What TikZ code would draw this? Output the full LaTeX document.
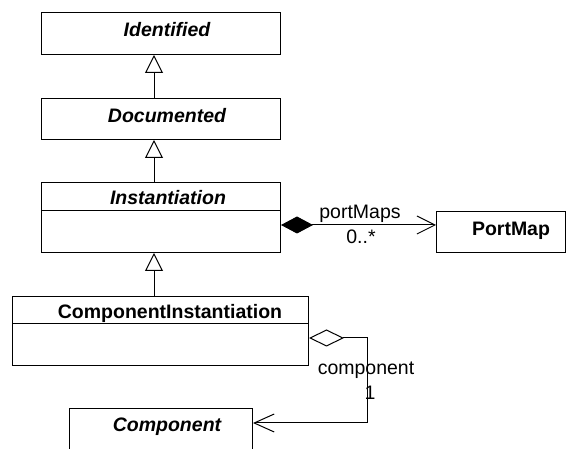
\documentclass[tikz,border=0pt]{standalone}
\usepackage{fontspec}
\setmainfont{Liberation Sans}
\usetikzlibrary{arrows.meta}

\tikzset{
  cls/.style={draw, line width=1pt, fill=white, inner sep=0pt, anchor=north west},
  title/.style={font=\fontsize{19.5}{21}\selectfont\bfseries, inner sep=0pt},
  abstitle/.style={title, font=\fontsize{19.5}{21}\selectfont\bfseries\itshape},
  lbl/.style={font=\fontsize{19.5}{21}\selectfont, inner sep=0pt},
  conn/.style={line width=1pt},
  gen/.style={conn, -{Triangle[open, length=18pt, width=18pt, line width=1pt]}},
  comp/.style={conn, {Diamond[length=32pt, width=17pt, fill=black, line width=1pt]}-{Straight Barb[length=18pt, width=18pt, line width=1pt]}},
  agg/.style={conn, {Diamond[open, length=35pt, width=17pt, line width=1pt]}-{Straight Barb[length=20pt, width=18pt, line width=1pt]}},
}

\begin{document}
\begin{tikzpicture}[x=1pt, y=-1pt]
  \useasboundingbox (0,0) rectangle (566,449);
  \clip (0,0) rectangle (566,449);
  \fill[white] (0,0) rectangle (566,449);

  % class boxes
  \node[cls, minimum width=239pt, minimum height=42pt] (ident) at (41,12) {};
  \node[abstitle] at (167,30) {Identified};

  \node[cls, minimum width=239pt, minimum height=41pt] (doc) at (41,98) {};
  \node[abstitle] at (167,116) {Documented};

  \node[cls, minimum width=239pt, minimum height=70pt] (inst) at (41,182) {};
  \draw[line width=1pt] (41,211) -- (280,211);
  \node[abstitle] at (168,198) {Instantiation};

  \node[cls, minimum width=129pt, minimum height=41pt] (pm) at (436,211) {};
  \node[title] at (511,231) {PortMap};

  \node[cls, minimum width=296pt, minimum height=69pt] (ci) at (12,296) {};
  \draw[line width=1pt] (12,324) -- (308,324);
  \node[title] at (170,313) {ComponentInstantiation};

  \node[cls, minimum width=183pt, minimum height=80pt] (cmp) at (69,408) {};
  \node[abstitle] at (167,427) {Component};

  % helper coordinates for connector routing
  \coordinate (gx) at (154,0);
  \coordinate (py) at (0,225);
  \coordinate (ay) at (0,338);
  \coordinate (bend) at (367,338);
  \coordinate (cy) at (0,423);

  % generalizations
  \draw[gen] (doc.north -| gx) -- (ident.south -| gx);
  \draw[gen] (inst.north -| gx) -- (doc.south -| gx);
  \draw[gen] (ci.north -| gx) -- (inst.south -| gx);

  % composition Instantiation -> PortMap
  \draw[comp] (inst.east |- py) -- (pm.west |- py);
  \node[lbl] at (360,214) {portMaps};
  \node[lbl] at (361,237) {0..*};

  % aggregation ComponentInstantiation -> Component
  \draw[agg] (ci.east |- ay) -- (bend) |- (cmp.east |- cy);
  \node[lbl] at (366,370) {component};
  \node[lbl] at (370,393) {1};
\end{tikzpicture}
\end{document}
